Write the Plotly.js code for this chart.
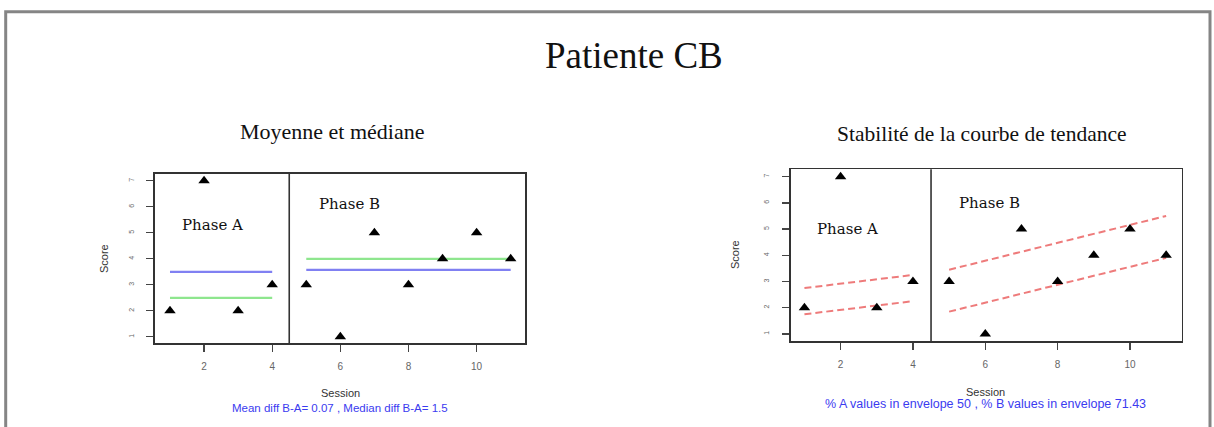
<!DOCTYPE html>
<html>
<head>
<meta charset="utf-8">
<script src="https://cdn.plot.ly/plotly-3.0.1.min.js"></script>
<style>html,body{margin:0;padding:0;background:#fff;}#chart{width:1214px;height:427px;}</style>
</head>
<body>
<div id="chart"></div>
<script>
// ---- data ----
const sessions = [1, 2, 3, 4, 5, 6, 7, 8, 9, 10, 11];
const scores   = [2, 7, 2, 3, 3, 1, 5, 3, 4, 5, 4];
const phaseChange = 4.5;
const xTicks = [2, 4, 6, 8, 10];
const yTicks = [1, 2, 3, 4, 5, 6, 7];

const phaseAx = [1, 4];
const phaseBx = [5, 11];
const meanA = [3.5, 3.5];
const medianA = [2.5, 2.5];
const meanB = [3.57, 3.57];
const medianB = [4, 4];

const envAUpper = [2.75, 3.25];
const envALower = [1.75, 2.25];
const envBUpper = [3.45, 5.5];
const envBLower = [1.85, 3.9];

const mainTitle = "Patiente CB";
const leftTitle = "Moyenne et médiane";
const rightTitle = "Stabilité de la courbe de tendance";
const leftSub = "Mean diff B-A= 0.07 , Median diff B-A= 1.5";
const rightSub = "% A values in envelope 50 , % B values in envelope 71.43";

// ---- layout helpers ----
const W = 1214, H = 427;
const px = v => v / W;
const py = v => (H - v) / H;

const blue = '#8080f2', green = '#8ee68e', red = '#ee7b7b';

const traces = [
  {x: phaseAx, y: meanA, xaxis: 'x', yaxis: 'y', mode: 'lines', line: {color: blue, width: 2.3}},
  {x: phaseAx, y: medianA, xaxis: 'x', yaxis: 'y', mode: 'lines', line: {color: green, width: 2.3}},
  {x: phaseBx, y: medianB, xaxis: 'x', yaxis: 'y', mode: 'lines', line: {color: green, width: 2.3}},
  {x: phaseBx, y: meanB, xaxis: 'x', yaxis: 'y', mode: 'lines', line: {color: blue, width: 2.3}},
  {x: sessions, y: scores, xaxis: 'x', yaxis: 'y', mode: 'markers',
   marker: {symbol: 'triangle-up', size: 10, color: '#000'}},

  {x: phaseAx, y: envAUpper, xaxis: 'x2', yaxis: 'y2', mode: 'lines', line: {color: red, width: 2, dash: '7px,4px'}},
  {x: phaseAx, y: envALower, xaxis: 'x2', yaxis: 'y2', mode: 'lines', line: {color: red, width: 2, dash: '7px,4px'}},
  {x: phaseBx, y: envBUpper, xaxis: 'x2', yaxis: 'y2', mode: 'lines', line: {color: red, width: 2, dash: '7px,4px'}},
  {x: phaseBx, y: envBLower, xaxis: 'x2', yaxis: 'y2', mode: 'lines', line: {color: red, width: 2, dash: '7px,4px'}},
  {x: sessions, y: scores, xaxis: 'x2', yaxis: 'y2', mode: 'markers',
   marker: {symbol: 'triangle-up', size: 10, color: '#000'}}
];

const xAxisBase = {
  tickvals: xTicks, ticks: 'outside', ticklen: 7, tickwidth: 1.3, tickcolor: '#444',
  showline: true, mirror: true, linecolor: '#333', linewidth: 1.6,
  showgrid: false, zeroline: false, ticklabelstandoff: 6,
  tickfont: {family: 'Liberation Sans, Arial, sans-serif', size: 10, color: '#666'}
};
const yAxisBase = {
  tickvals: yTicks, ticks: 'outside', ticklen: 7, tickwidth: 1.3, tickcolor: '#444',
  showline: true, mirror: true, linecolor: '#333', linewidth: 1.6,
  showgrid: false, zeroline: false, tickangle: -90, ticklabelstandoff: 10,
  tickfont: {family: 'Liberation Sans, Arial, sans-serif', size: 7, color: '#666'}
};

const serif = 'Liberation Serif, Times New Roman, serif';
const slab = 'DejaVu Serif, serif';
const sans = 'Liberation Sans, Arial, sans-serif';

const layout = {
  width: W, height: H,
  margin: {l: 0, r: 0, t: 0, b: 0},
  paper_bgcolor: '#fff', plot_bgcolor: '#fff',
  showlegend: false,
  xaxis:  Object.assign({}, xAxisBase, {domain: [px(155), px(525)], range: [0.56, 11.42], anchor: 'y'}),
  yaxis:  Object.assign({}, yAxisBase, {domain: [py(343.3), py(174)], range: [0.75, 7.26], anchor: 'x'}),
  xaxis2: Object.assign({}, xAxisBase, {domain: [px(790.7), px(1181.7)], range: [0.62, 11.43], anchor: 'y2'}),
  yaxis2: Object.assign({}, yAxisBase, {domain: [py(341), py(169.3)], range: [0.73, 7.28], anchor: 'x2'}),
  shapes: [
    {type: 'line', xref: 'x', yref: 'y domain', x0: phaseChange, x1: phaseChange, y0: 0, y1: 1,
     line: {color: '#333', width: 1.6}},
    {type: 'line', xref: 'x2', yref: 'y2 domain', x0: phaseChange, x1: phaseChange, y0: 0, y1: 1,
     line: {color: '#333', width: 1.6}},
    {type: 'rect', xref: 'paper', yref: 'paper', x0: px(5.7), x1: px(1210), y0: -0.05, y1: py(11.7),
     line: {color: '#858585', width: 3}, fillcolor: 'rgba(0,0,0,0)', layer: 'above'}
  ],
  annotations: [
    {text: mainTitle, xref: 'paper', yref: 'paper', x: px(634), y: py(55), xanchor: 'center', yanchor: 'middle',
     showarrow: false, font: {family: serif, size: 37, color: '#111'}},
    {text: leftTitle, xref: 'paper', yref: 'paper', x: px(332), y: py(131), xanchor: 'center', yanchor: 'middle',
     showarrow: false, font: {family: serif, size: 22, color: '#111'}},
    {text: rightTitle, xref: 'paper', yref: 'paper', x: px(982), y: py(134), xanchor: 'center', yanchor: 'middle',
     showarrow: false, font: {family: serif, size: 21.5, color: '#111'}},

    {text: 'Phase A', xref: 'x', yref: 'y', x: 2.26, y: 5.3, xanchor: 'center', yanchor: 'middle',
     showarrow: false, font: {family: slab, size: 15, color: '#111'}},
    {text: 'Phase B', xref: 'x', yref: 'y', x: 6.26, y: 6.1, xanchor: 'center', yanchor: 'middle',
     showarrow: false, font: {family: slab, size: 15, color: '#111'}},
    {text: 'Phase A', xref: 'x2', yref: 'y2', x: 2.19, y: 5.0, xanchor: 'center', yanchor: 'middle',
     showarrow: false, font: {family: slab, size: 15, color: '#111'}},
    {text: 'Phase B', xref: 'x2', yref: 'y2', x: 6.12, y: 5.98, xanchor: 'center', yanchor: 'middle',
     showarrow: false, font: {family: slab, size: 15, color: '#111'}},

    {text: 'Score', xref: 'paper', yref: 'paper', x: px(104), y: py(259), textangle: -90, xanchor: 'center', yanchor: 'middle',
     showarrow: false, font: {family: sans, size: 11, color: '#333'}},
    {text: 'Score', xref: 'paper', yref: 'paper', x: px(735), y: py(255), textangle: -90, xanchor: 'center', yanchor: 'middle',
     showarrow: false, font: {family: sans, size: 11, color: '#333'}},
    {text: 'Session', xref: 'paper', yref: 'paper', x: px(340), y: py(393), xanchor: 'center', yanchor: 'middle',
     showarrow: false, font: {family: sans, size: 11, color: '#333'}},
    {text: 'Session', xref: 'paper', yref: 'paper', x: px(985), y: py(392), xanchor: 'center', yanchor: 'middle',
     showarrow: false, font: {family: sans, size: 11, color: '#333'}},
    {text: leftSub, xref: 'paper', yref: 'paper', x: px(340), y: py(408), xanchor: 'center', yanchor: 'middle',
     showarrow: false, font: {family: sans, size: 11.5, color: '#3b3bf0'}},
    {text: rightSub, xref: 'paper', yref: 'paper', x: px(985), y: py(403.5), xanchor: 'center', yanchor: 'middle',
     showarrow: false, font: {family: sans, size: 12.5, color: '#3b3bf0'}}
  ]
};

Plotly.newPlot('chart', traces, layout, {displayModeBar: false, staticPlot: true});
</script>
</body>
</html>
